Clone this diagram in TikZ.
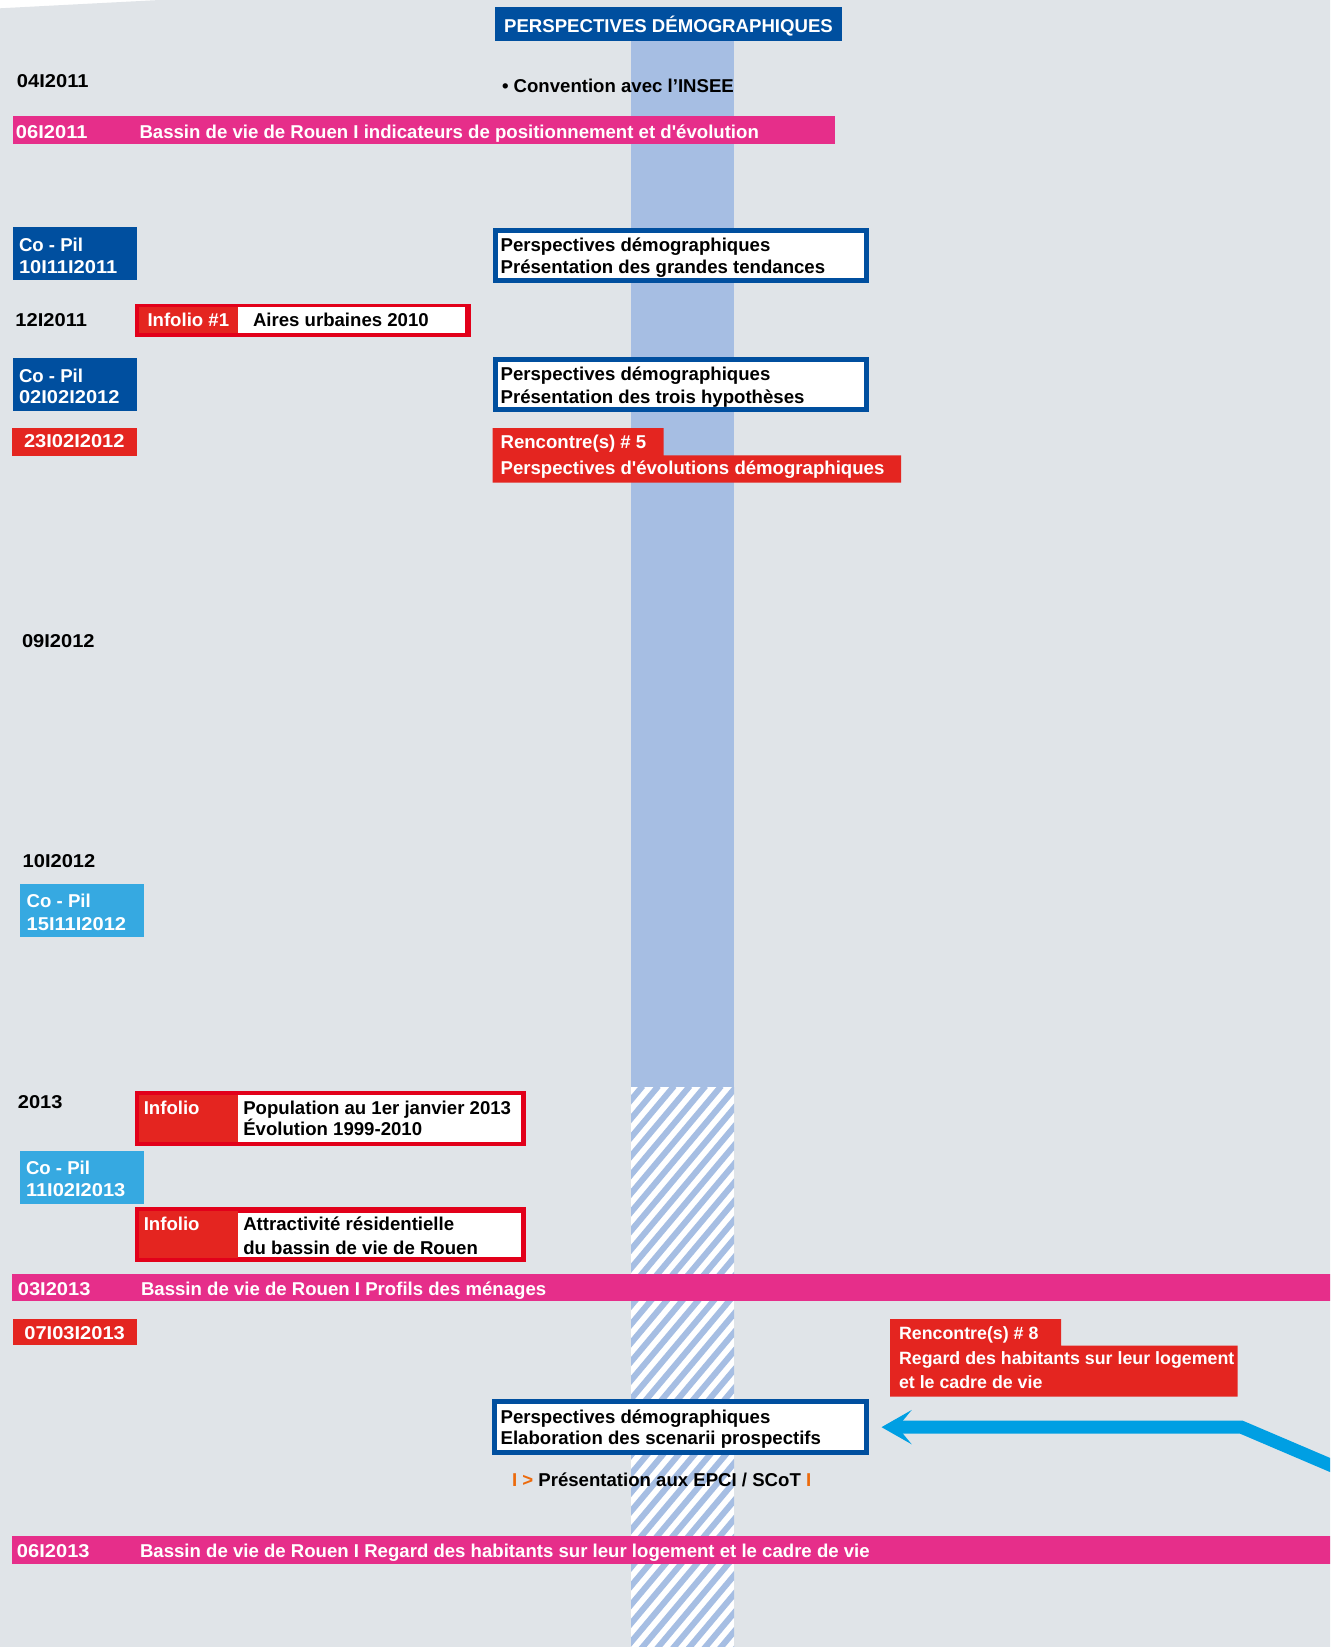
\documentclass[tikz,border=0pt]{standalone}
\usepackage{fontspec}
\setmainfont{Liberation Sans}
\usetikzlibrary{fit,arrows.meta}
\definecolor{bg}{HTML}{E0E4E8}
\definecolor{bandblue}{HTML}{A6BEE3}
\definecolor{darkblue}{HTML}{004F9F}
\definecolor{pinkc}{HTML}{E62E8A}
\definecolor{redf}{HTML}{E42520}
\definecolor{redframe}{HTML}{E2001A}
\definecolor{lightblue}{HTML}{36A9E1}
\definecolor{arrowcyan}{HTML}{009FE3}
\definecolor{orangec}{HTML}{EC6A0C}
\newcommand\dt[1]{\scalebox{1.08}[1]{#1}}
\begin{document}
\begin{tikzpicture}[x=0.5pt,y=-0.5pt,
  txt/.style={anchor=base west, inner sep=0pt, outer sep=0pt, yshift=-0.7pt, font=\fontsize{9.3pt}{10.8pt}\selectfont\bfseries, text=black},
  wtxt/.style={txt, text=white},
  ntxt/.style={wtxt, font=\fontsize{8.9pt}{10.8pt}\selectfont\bfseries},
  area/.style={fit={#1}, inner sep=0pt, outer sep=0pt},
  framebox/.style={fill=white, draw=darkblue, line width=2.5pt},
]
\useasboundingbox (0,0) rectangle (1330,1647);
\clip (0,0) rectangle (1330,1647);
\fill[white] (0,0) rectangle (1330,1647);
\fill[bg] (0,8.3) -- (160,0) -- (1330,0) -- (1330,1647) -- (0,1647) -- cycle;

% central band
\node[area={(631,41.5)(734,1087)}, fill=bandblue] (band) {};
\begin{scope}
  \clip (631,1087) rectangle (734,1647);
  \fill[white] (631,1087) rectangle (734,1647);
  \foreach \i in {0,...,40} \draw[bandblue, line width=3pt] (145+\i*15.7,1660) -- ++(482,-574);
\end{scope}

% header
\node[area={(495,7.3)(842,41.5)}, fill=darkblue] (header) {};
\node[wtxt, anchor=base] (headert) at (668.5,31) {PERSPECTIVES DÉMOGRAPHIQUES};

% 04/2011
\node[txt] (d1) at (17,86.5) {\dt{04I2011}};
\node[txt] (conv) at (502,90.7) {• Convention avec l’INSEE};

% pink bar 1
\node[area={(12.6,116)(835,144)}, fill=pinkc] (pb1) {};
\node[wtxt] (pb1a) at (16,136.7) {\dt{06I2011}};
\node[wtxt] (pb1b) at (139.5,136.7) {Bassin de vie de Rouen I indicateurs de positionnement et d\textquotesingle évolution};

% Co-Pil 1
\node[area={(13,227)(137,280)}, fill=darkblue] (cp1) {};
\node[wtxt] (cp1a) at (19,250) {Co - Pil};
\node[wtxt] (cp1b) at (19,271.7) {\dt{10I11I2011}};

\node[area={(495,230.5)(866.5,280.2)}, framebox] (box1) {};
\node[txt] (box1a) at (500.6,250) {Perspectives démographiques};
\node[txt] (box1b) at (500.6,271.7) {Présentation des grandes tendances};

% 12/2011
\node[txt] (d2) at (15.5,325) {\dt{12I2011}};
\node[area={(135,304.3)(470.7,337.3)}, fill=redframe] (inf1) {};
\node[area={(139,307.5)(238,333)}, fill=redf] (inf1l) {};
\node[area={(238,307.3)(465,332.7)}, fill=white] (inf1r) {};
\node[wtxt] (inf1a) at (147.5,325) {Infolio \#1};
\node[txt] (inf1b) at (253,325) {Aires urbaines 2010};

% Co-Pil 2
\node[area={(13,358)(137,410.7)}, fill=darkblue] (cp2) {};
\node[wtxt] (cp2a) at (19,380.7) {Co - Pil};
\node[wtxt] (cp2b) at (19,402.3) {\dt{02I02I2012}};

\node[area={(495,359.5)(866.5,409.5)}, framebox] (box2) {};
\node[txt] (box2a) at (500.6,379.5) {Perspectives démographiques};
\node[txt] (box2b) at (500.6,401.7) {Présentation des trois hypothèses};

% 23/02/2012
\node[area={(12,428)(136.6,455.7)}, fill=redf] (rd1) {};
\node[wtxt, anchor=base] (rd1t) at (74.3,446.5) {\dt{23I02I2012}};
\fill[redf] (492.5,428) -- (663.6,428) -- (663.6,455.3) -- (901,455.3) -- (901,482.7) -- (492.5,482.7) -- cycle;
\node[wtxt] (r5a) at (500.6,447.3) {Rencontre(s) \# 5};
\node[wtxt] (r5b) at (500.6,473.3) {Perspectives d\textquotesingle évolutions démographiques};

% 09/2012, 10/2012
\node[txt] (d3) at (22,646.5) {\dt{09I2012}};
\node[txt] (d4) at (22.7,865.7) {\dt{10I2012}};
\node[area={(20,884)(144,936.7)}, fill=lightblue] (cp3) {};
\node[wtxt] (cp3a) at (26.7,905.7) {Co - Pil};
\node[wtxt] (cp3b) at (26.7,929.3) {\dt{15I11I2012}};

% 2013
\node[txt] (d5) at (17.9,1106.7) {\dt{2013}};
\node[area={(135,1091)(526,1146)}, fill=redframe] (inf2) {};
\node[area={(139,1095)(238,1142)}, fill=redf] (inf2l) {};
\node[area={(238,1095)(521,1141.7)}, fill=white] (inf2r) {};
\node[wtxt] (inf2a) at (143.8,1112.7) {Infolio};
\node[txt] (inf2b) at (243.3,1112.7) {Population au 1er janvier 2013};
\node[txt] (inf2c) at (243.3,1134) {Évolution 1999-2010};

\node[area={(20,1151)(144,1203.7)}, fill=lightblue] (cp4) {};
\node[wtxt] (cp4a) at (26,1173.3) {Co - Pil};
\node[wtxt] (cp4b) at (26,1195) {\dt{11I02I2013}};

\node[area={(135,1207.3)(526,1262)}, fill=redframe] (inf3) {};
\node[area={(139,1211)(238,1258)}, fill=redf] (inf3l) {};
\node[area={(238,1212.7)(521,1256.7)}, fill=white] (inf3r) {};
\node[wtxt] (inf3a) at (143.8,1229.3) {Infolio};
\node[txt] (inf3b) at (243.3,1229.3) {Attractivité résidentielle};
\node[txt] (inf3c) at (243.3,1252.7) {du bassin de vie de Rouen};

% pink bar 2
\node[area={(12,1274)(1335,1301)}, fill=pinkc] (pb2) {};
\node[wtxt] (pb2a) at (17.9,1294.2) {\dt{03I2013}};
\node[wtxt] (pb2b) at (141,1294.2) {Bassin de vie de Rouen I Profils des ménages};

% 07/03/2013
\node[area={(12.6,1318.5)(136.6,1345)}, fill=redf] (rd2) {};
\node[wtxt, anchor=base] (rd2t) at (74.6,1338.5) {\dt{07I03I2013}};

\fill[redf] (890,1319) -- (1061,1319) -- (1061,1345.7) -- (1237.7,1345.7) -- (1237.7,1396.7) -- (890,1396.7) -- cycle;
\node[ntxt] (r8a) at (899,1337.7) {Rencontre(s) \# 8};
\node[ntxt] (r8b) at (899,1363.3) {Regard des habitants sur leur logement};
\node[ntxt] (r8c) at (899,1386.7) {et le cadre de vie};

\node[area={(494.5,1401.8)(866.5,1452.5)}, framebox] (box3) {};
\node[txt] (box3a) at (500.6,1421.7) {Perspectives démographiques};
\node[txt] (box3b) at (500.6,1443.3) {Elaboration des scenarii prospectifs};

\node[txt] (epci) at (512,1485) {\textcolor{orangec}{I >} Présentation aux EPCI / SCoT \textcolor{orangec}{I}};

% pink bar 3
\node[area={(12,1536)(1335,1563.7)}, fill=pinkc] (pb3) {};
\node[wtxt] (pb3a) at (17,1556.5) {\dt{06I2013}};
\node[wtxt] (pb3b) at (140,1556.5) {Bassin de vie de Rouen I Regard des habitants sur leur logement et le cadre de vie};

% arrow
\coordinate (arrS) at (1350,1473.5);
\coordinate (arrB) at (1241,1427);
\draw[arrowcyan, line width=6.5pt, -{Stealth[length=15pt,width=17pt,inset=7pt]}] (arrS) -- (arrB) -- ([xshift=7.5pt]box3.east);
\end{tikzpicture}
\end{document}
